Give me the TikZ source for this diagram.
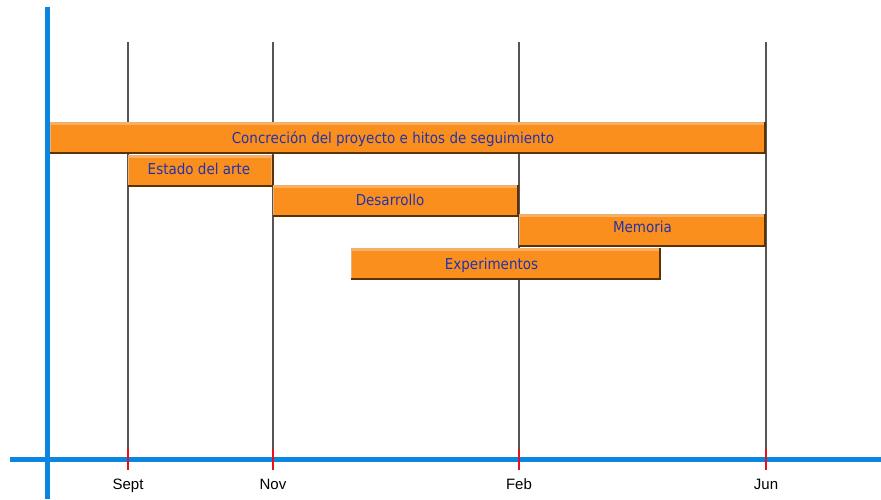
\documentclass[tikz,border=0pt]{standalone}
\usepackage{fontspec}
\setmainfont{Liberation Sans}
\newfontfamily\barfont{DejaVu Sans Condensed}
\usetikzlibrary{calc}
\definecolor{axisblue}{HTML}{0A86E0}
\definecolor{barorange}{HTML}{FB8F1E}
\definecolor{barhi}{HTML}{FDAE5E}
\definecolor{bardark}{HTML}{5A3204}
\definecolor{barlight}{HTML}{E6B27A}
\definecolor{bartext}{HTML}{2233AA}
\definecolor{gridgray}{HTML}{555555}
\definecolor{tickred}{HTML}{E8101A}
% #1 name, #2-#5 box, #6 text x, #7 text baseline y, #8 text
\newcommand{\ganttbar}[8]{%
  \pgfmathsetmacro{\gbxa}{#2+1}%
  \pgfmathsetmacro{\gbya}{#3+1}%
  \pgfmathsetmacro{\gbyh}{#3+3}%
  \pgfmathsetmacro{\gbxb}{#4-2}%
  \pgfmathsetmacro{\gbyb}{#5-2}%
  \pgfmathsetmacro{\gbxc}{#4-2.5}%
  \pgfmathsetmacro{\gbyc}{#5-2.5}%
  \coordinate (#1-nw) at (#2,#3);
  \coordinate (#1-se) at (#4,#5);
  \fill[bardark] (#1-nw) rectangle (#1-se);
  \fill[barlight] (#1-nw) rectangle (\gbxb,\gbyb);
  \fill[barorange] (\gbxa,\gbya) rectangle (\gbxc,\gbyc);
  \fill[barhi] (\gbxa,\gbya) rectangle (\gbxc,\gbyh);
  \node[bartext font] (#1) at (#6,#7) {#8};
}
\begin{document}
\begin{tikzpicture}[x=1pt,y=-1pt,
  bartext font/.style={text=bartext,font=\barfont\fontsize{15}{17}\selectfont,inner sep=0pt,anchor=base},
  month/.style={font=\fontsize{15}{17}\selectfont,text=black,inner sep=0pt,anchor=base},
  grid line/.style={draw=gridgray,line width=1.2pt},
  tick/.style={draw=tickred,line width=2pt},
  axis/.style={draw=axisblue,line width=5pt}]
\useasboundingbox (0,0) rectangle (881,499);
% grid lines
\foreach \n/\x in {sept/128,nov/273,feb/519,jun/766}{
  \coordinate (\n-top) at (\x,42);
  \coordinate (\n-base) at (\x,459);
  \draw[grid line] (\n-top) -- (\n-base);
}
% bars
\ganttbar{concrecion}{50}{122}{766}{154}{393}{143}{Concreción del proyecto e hitos de seguimiento}
\ganttbar{estado}{128}{155}{273.5}{187}{199}{174}{Estado del arte}
\ganttbar{desarrollo}{273}{185}{519}{217}{390}{205}{Desarrollo}
\ganttbar{memoria}{519}{214}{766}{247}{642.5}{232.5}{Memoria}
\ganttbar{experimentos}{351}{248}{661}{280}{491.5}{269}{Experimentos}
% axes
\coordinate (yaxis-top) at (47,7);
\coordinate (yaxis-bot) at (47,499);
\coordinate (xaxis-left) at (10,459);
\coordinate (xaxis-right) at (881,459);
\draw[axis] (yaxis-top) -- (yaxis-bot);
\draw[axis] (xaxis-left) -- (xaxis-right);
% ticks and labels
\foreach \n/\x/\lab in {sept/128/Sept,nov/273/Nov,feb/519/Feb,jun/766/Jun}{
  \coordinate (\n-t1) at (\x,449);
  \coordinate (\n-t2) at (\x,470);
  \draw[tick] (\n-t1) -- (\n-t2);
  \node[month] (\n-label) at (\x,489.5) {\lab};
}
\end{tikzpicture}
\end{document}
